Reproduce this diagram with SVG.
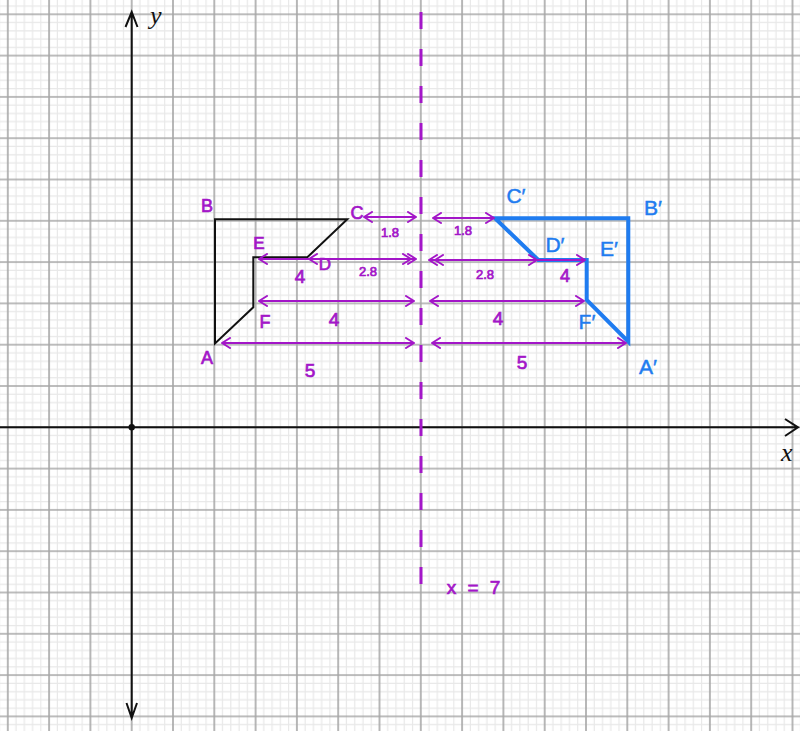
<svg xmlns="http://www.w3.org/2000/svg" width="800" height="731" viewBox="0 0 800 731">
<defs>
<pattern id="grid" patternUnits="userSpaceOnUse" x="111.05" y="406.65" width="41.3" height="41.3">
<path d="M4.13 0V41.3M12.39 0V41.3M28.91 0V41.3M37.17 0V41.3M0 4.13H41.3M0 12.39H41.3M0 28.91H41.3M0 37.17H41.3" stroke="#e8e8e8" stroke-width="1.2" fill="none"/>
<path d="M20.65 0V41.3M0 20.65H41.3" stroke="#a6a6a6" stroke-width="1.6" fill="none"/>
</pattern>
<marker id="ah" viewBox="-10 -6 12 12" markerWidth="12" markerHeight="12" markerUnits="userSpaceOnUse" refX="0" refY="0" orient="auto-start-reverse">
<path d="M-8 -5 L0 0 L-8 5" fill="none" stroke="#a316c8" stroke-width="2" stroke-linecap="round" stroke-linejoin="round"/>
</marker>
</defs>
<style>
.ax{stroke:#111;stroke-width:2;fill:none}
.arr{stroke:#a316c8;stroke-width:2;fill:none;marker-start:url(#ah);marker-end:url(#ah)}
.pl{fill:#a316c8;stroke:#a316c8;stroke-width:0.7;font-family:"Liberation Sans",sans-serif;text-anchor:middle}
.bl{fill:#1f7cf0;stroke:#1f7cf0;stroke-width:0.5;font-family:"Liberation Sans",sans-serif;text-anchor:middle;font-size:21px}
.al{fill:#111;font-family:"Liberation Serif",serif;font-style:italic;font-size:26px}
</style>
<rect width="800" height="731" fill="#fff"/>
<rect width="800" height="731" fill="url(#grid)"/>
<g id="axes">
<path class="ax" d="M0 427.3H797M785 419L798 427.3L785 436"/>
<path class="ax" d="M131.7 12V718M125.5 27L131.7 12L137.5 27M126.5 703L131.7 718L137 703"/>
<circle cx="131.7" cy="427.3" r="3.2" fill="#111"/>
<text class="al" x="150" y="24">y</text>
<text class="al" x="781" y="461">x</text>
</g>
<g id="mirror-line">
<line x1="421" y1="12" x2="421" y2="600" stroke="#a316c8" stroke-width="3" stroke-dasharray="17 20"/>
<text class="pl" x="475" y="594" font-size="19" letter-spacing="3">x = 7</text>
</g>
<g id="shape-ABCDEF">
<path d="M215 343.5L215 219.3L347.3 219.3L307.3 257.3L253.3 257.3L253.3 307.3Z" fill="none" stroke="#111" stroke-width="2" stroke-linejoin="miter"/>
<text class="pl" x="207" y="364" font-size="18">A</text>
<text class="pl" x="207" y="212" font-size="18">B</text>
<text class="pl" x="357" y="219" font-size="18">C</text>
<text class="pl" x="325" y="270" font-size="17">D</text>
<text class="pl" x="259" y="249" font-size="17">E</text>
<text class="pl" x="265" y="328" font-size="18">F</text>
</g>
<g id="shape-image">
<path d="M495 218.3L628.3 218.3L628.3 341.7L586.7 300L586.7 260L538.3 260Z" fill="none" stroke="#1f7cf0" stroke-width="4" stroke-linejoin="miter"/>
<text class="bl" x="516" y="203">C′</text>
<text class="bl" x="653" y="215">B′</text>
<text class="bl" x="555" y="252">D′</text>
<text class="bl" x="609" y="256">E′</text>
<text class="bl" x="587" y="329">F′</text>
<text class="bl" x="648" y="374">A′</text>
</g>
<g id="connectors">
<line class="arr" x1="364" y1="217" x2="416" y2="217"/>
<line class="arr" x1="309" y1="259" x2="416" y2="259"/>
<line class="arr" x1="259" y1="259" x2="411" y2="259"/>
<line class="arr" x1="259" y1="301" x2="414" y2="301"/>
<line class="arr" x1="222" y1="343" x2="414" y2="343"/>
<line class="arr" x1="433" y1="218" x2="494" y2="218"/>
<line class="arr" x1="429" y1="260" x2="537" y2="260"/>
<line class="arr" x1="435" y1="260" x2="585" y2="260"/>
<line class="arr" x1="430" y1="301" x2="584" y2="301"/>
<line class="arr" x1="432" y1="343" x2="626" y2="343"/>
</g>
<g id="labels">
<text class="pl" x="390" y="237" font-size="13">1.8</text>
<text class="pl" x="368" y="276" font-size="13">2.8</text>
<text class="pl" x="300" y="283" font-size="19">4</text>
<text class="pl" x="334" y="326" font-size="19">4</text>
<text class="pl" x="310" y="377" font-size="19">5</text>
<text class="pl" x="463" y="235" font-size="13">1.8</text>
<text class="pl" x="485" y="279" font-size="13">2.8</text>
<text class="pl" x="565" y="282" font-size="18">4</text>
<text class="pl" x="498" y="325" font-size="19">4</text>
<text class="pl" x="522" y="369" font-size="19">5</text>
</g>
</svg>
